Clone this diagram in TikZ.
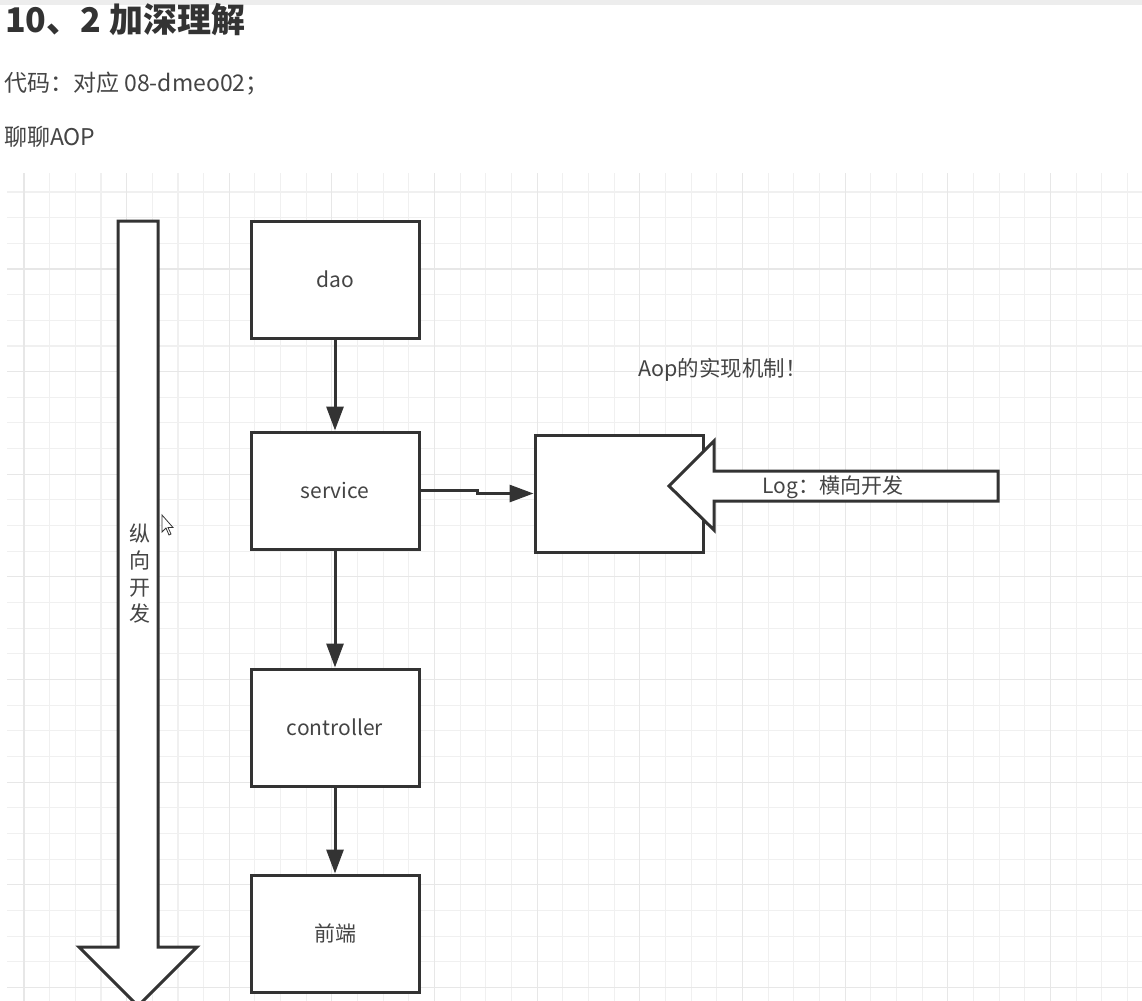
\documentclass[tikz,border=0pt]{standalone}
\usepackage{fontspec}
\setmainfont{Noto Sans CJK SC}
\usetikzlibrary{arrows.meta}
\definecolor{ink}{HTML}{333333}
\definecolor{txt}{HTML}{444444}
\definecolor{gridminor}{HTML}{F0F0F0}
\definecolor{gridmajor}{HTML}{E7E7E7}
\definecolor{topbar}{HTML}{EDEDED}
\begin{document}
\begin{tikzpicture}[x=1bp,y=-1bp,
  shapeline/.style={draw=ink,line width=3bp,fill=white,line join=miter},
  box/.style={shapeline,minimum width=168bp,minimum height=117bp,inner sep=0pt,
    font=\fontsize{21bp}{25bp}\selectfont,text=txt},
  conn/.style={draw=ink,line width=3bp,-{Triangle[length=24bp,width=17bp]}},
  lbl/.style={font=\fontsize{21bp}{25bp}\selectfont,text=txt,inner sep=0pt},
  body/.style={font=\fontsize{23bp}{27bp}\selectfont,text=txt,inner sep=0pt,anchor=west}]
\useasboundingbox (0,0) rectangle (1142,1001);
\clip (0,0) rectangle (1142,1001);
\fill[white] (0,0) rectangle (1142,1001);
\fill[topbar] (0,0) rectangle (1142,5);
% grid
\foreach \i in {0,...,43}
  \draw[gridminor,line width=1.1bp] ({24+25.66*\i},173) -- ({24+25.66*\i},1001);
\foreach \k in {0,...,31}
  \draw[gridminor,line width=1.1bp] (7,{192+25.66*\k}) -- (1142,{192+25.66*\k});
\foreach \i in {0,4,...,40}
  \draw[gridmajor,line width=1.1bp] ({24+25.66*\i},173) -- ({24+25.66*\i},1001);
\foreach \k in {3,7,...,31}
  \draw[gridmajor,line width=1.1bp] (7,{192+25.66*\k}) -- (1142,{192+25.66*\k});
% header texts
\node[anchor=west,inner sep=0pt,font=\fontsize{34bp}{40bp}\selectfont\bfseries,text=ink] (title) at (5,20) {10、2 加深理解};
\node[body] (code) at (4,84) {代码：对应 08-dmeo02；};
\node[body] (chat) at (4,137) {聊聊AOP};
% vertical arrow
\draw[shapeline] (118,221) -- (158,221) -- (158,947) -- (197,947) -- (138,1006) -- (79,947) -- (118,947) -- cycle;
\node[lbl,align=center,font=\fontsize{21bp}{26.7bp}\selectfont] (vdev) at (140,574) {纵\\向\\开\\发};
% boxes
\node[box] (dao) at (335,279.5) {dao};
\node[box] (service) at (335,490.5) {service};
\node[box] (controller) at (335,727.5) {controller};
\node[box] (front) at (335,933.5) {前端};
\node[box] (aop) at (619,493.5) {};
% connectors
\draw[conn] (dao) -- (service);
\draw[conn] (service) -- (controller);
\draw[conn] (controller) -- (front);
\draw[conn] (service.east) -- (477,490.5) -- (477,493.5) -- (aop.west);
% log arrow
\draw[shapeline] (998,471) -- (714,471) -- (714,441) -- (669,486) -- (714,530) -- (714,501) -- (998,501) -- cycle;
\node[lbl] (log) at (833,487) {Log：横向开发};
\node[lbl,anchor=west,font=\fontsize{21.5bp}{25bp}\selectfont] (aoplabel) at (638,370) {Aop的实现机制！};
% mouse cursor
\draw[ink,fill=white,line width=0.8bp,line join=miter] (162,515) -- (162,532) -- (166,528) -- (169,535) -- (171,534) -- (168,527.5) -- (173,527.5) -- cycle;
\end{tikzpicture}
\end{document}
